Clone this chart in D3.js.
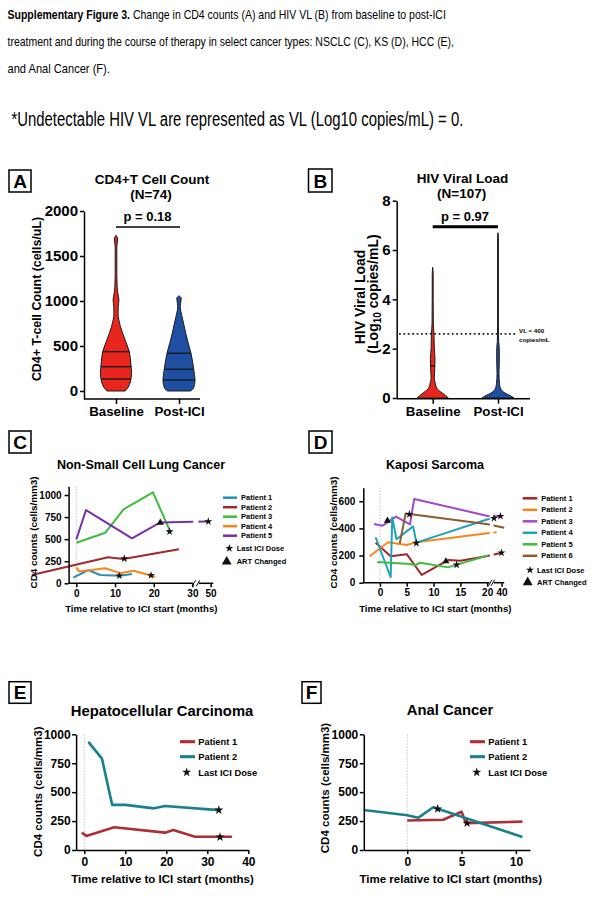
<!DOCTYPE html>
<html>
<head>
<meta charset="utf-8">
<title>Supplementary Figure 3</title>
<script src="https://cdn.jsdelivr.net/npm/d3@7/dist/d3.min.js"></script>
<style>
  body { margin: 0; background: #fff; }
</style>
</head>
<body>
<svg width="600" height="899"></svg>
<script>
var FONT = '"Liberation Sans", Arial, Helvetica, sans-serif';

// caption
var captionBold = 'Supplementary Figure 3.';
var captionRest = ' Change in CD4 counts (A) and HIV VL (B) from baseline to post-ICI';
var captionLine2 = 'treatment and during the course of therapy in select cancer types: NSCLC (C), KS (D), HCC (E),';
var captionLine3 = 'and Anal Cancer (F).';
var noteText = '*Undetectable HIV VL are represented as VL (Log10 copies/mL) = 0.';

var groups = ['Baseline', 'Post-ICI'];

// panel A violins: CD4 level and relative width of the outline
var cd4BaseLevels = [0, 40, 100, 197, 300, 437, 567, 715, 863, 940, 1011, 1080, 1159, 1300, 1600, 1690, 1730];
var cd4BaseWidth  = [0.57, 0.75, 0.9, 0.97, 0.93, 0.83, 0.57, 0.28, 0.13, 0.14, 0.18, 0.12, 0.07, 0.05, 0.05, 0.1, 0];
var cd4PostLevels = [0, 30, 122, 241, 419, 530, 641, 740, 826, 937, 1000, 1030, 1058];
var cd4PostWidth  = [0.72, 0.9, 1.0, 0.92, 0.75, 0.58, 0.42, 0.3, 0.19, 0.08, 0.12, 0.14, 0];
var cd4BaseQuartiles = [133, 270, 437];
var cd4PostQuartiles = [122, 241, 419];
var cd4Ticks = [0, 500, 1000, 1500, 2000];

// panel B violins (log10 copies/mL)
var vlBaseLevels = [0, 0.1, 0.25, 0.4, 0.6, 0.8, 1.2, 1.6, 2.0, 2.6, 3.0, 4.0, 5.0, 5.3];
var vlBaseWidth  = [0.98, 0.8, 0.5, 0.25, 0.16, 0.1, 0.13, 0.14, 0.1, 0.08, 0.04, 0.03, 0.03, 0];
var vlPostLevels = [0, 0.1, 0.2, 0.35, 0.6, 1.0, 1.5, 2.0, 2.3, 3.0, 6.5, 6.7];
var vlPostWidth  = [1.0, 0.75, 0.44, 0.19, 0.09, 0.06, 0.08, 0.08, 0.04, 0.025, 0.025, 0];
var vlBaseMedian = [1.3];
var vlTicks = [0, 2, 4, 6, 8];
var vlCutoff = Math.log10(400);

// panel C: NSCLC, [months, CD4]
var nsclcP1 = [[-0.8, 64], [3.1, 150], [6.2, 94], [11.3, 86], [14.4, 105]];
var nsclcP2 = [[-11.5, 94], [8.2, 294], [12.2, 275], [26.5, 385]];
var nsclcP3 = [[0, 460], [7.5, 573], [12.2, 838], [19.8, 1030], [24.3, 585]];
var nsclcP4 = [[0, 180], [0.7, 135], [7.5, 170], [11.3, 115], [14.8, 143], [20.4, 75]];
var nsclcP5 = [[0, 498], [2.5, 830], [14.4, 510], [21.7, 690], [30, 698], [49.4, 700]];
var nsclcLastDose = [[11.1, 86], [12.4, 280], [19.3, 90], [24.1, 585], [49.4, 700]];
var nsclcArtChanged = [[21.7, 688]];
var nsclcXTicks = [0, 10, 20, 30, 50];
var nsclcYTicks = [0, 250, 500, 750, 1000];

// panel D: Kaposi sarcoma
var ksP1 = [[-0.8, 295], [2.0, 195], [5.0, 210], [7.8, 57], [12.8, 168], [15, 162], [20.1, 197], [40, 220]];
var ksP2 = [[-1.9, 195], [1.5, 298], [5.0, 278], [6.7, 298], [20.1, 364], [39.1, 372]];
var ksP3 = [[-1.1, 432], [0.5, 420], [3.0, 487], [5.6, 430], [6.4, 617], [20.1, 492], [39.8, 490]];
var ksP4 = [[-0.8, 335], [2.0, 40], [2.3, 480], [3.1, 320], [6.2, 415], [6.8, 295], [20.1, 467], [38.6, 475]];
var ksP5 = [[-0.5, 152], [5.6, 138], [6.5, 128], [7.5, 147], [12.7, 113], [14.5, 135], [20.1, 200]];
var ksP6 = [[3.7, 290], [4.8, 510], [20.1, 430], [40.5, 405]];
var ksLastDose = [[5.5, 504], [6.8, 292], [14.3, 132], [38.6, 475], [39.8, 490], [40, 220]];
var ksArtChanged = [[1.4, 457], [12.3, 158]];
var ksXTicks = [0, 5, 10, 15, 20, 40];
var ksYTicks = [0, 200, 400, 600];

// panel E: hepatocellular carcinoma
var hccP1 = [[-0.6, 150], [0.5, 122], [7.3, 196], [19.7, 150], [21.7, 172], [27, 115], [36, 115]];
var hccP2 = [[1, 935], [4.3, 790], [6.8, 390], [10, 390], [17, 360], [19.7, 380], [32.8, 345]];
var hccLastDose = [[33.1, 112], [32.8, 345]];
var hccXTicks = [0, 10, 20, 30, 40];

// panel F: anal cancer
var analP1 = [[0, 255], [3.3, 262], [5.0, 330], [5.4, 232], [10.6, 245]];
var analP2 = [[-4, 345], [0, 300], [1.0, 278], [2.4, 370], [10.6, 112]];
var analLastDose = [[2.8, 355], [5.5, 232]];
var analXTicks = [0, 5, 10];
var cd4Ticks4 = [0, 250, 500, 750, 1000];

var xLabelText = 'Time relative to ICI start (months)';
var yLabelText = 'CD4 counts (cells/mm3)';

var svg = d3.select('svg').attr('font-family', FONT);
svg.append('rect').attr('width', 600).attr('height', 899).attr('fill', '#fff');

// ---- caption: text squeezed horizontally to the width it has in the figure ----
function fitText(t, x, y, width) {
    var natural = t.node().getComputedTextLength();
    t.attr('transform', 'translate(' + x + ',' + y + ') scale(' + (width / natural) + ',1)');
}
var cap1 = svg.append('text').attr('font-size', 12.5).attr('fill', '#000');
cap1.append('tspan').attr('font-weight', 'bold').text(captionBold);
cap1.append('tspan').text(captionRest);
fitText(cap1, 7.5, 19, 439);
fitText(svg.append('text').attr('font-size', 12.5).attr('fill', '#000').text(captionLine2), 7.5, 45.5, 447);
fitText(svg.append('text').attr('font-size', 12.5).attr('fill', '#000').text(captionLine3), 7.5, 73, 102.5);
fitText(svg.append('text').attr('font-size', 20).attr('fill', '#000').text(noteText), 11.5, 126, 452);

// ---- helpers ----
function styleAxis(g, size) {
    g.attr('font-family', FONT).attr('font-size', size).attr('font-weight', 'bold');
    g.selectAll('text').attr('fill', '#000');
    g.selectAll('line').attr('stroke', '#000').attr('stroke-width', 1.5);
    g.selectAll('.domain').attr('stroke', '#000').attr('stroke-width', 1.5);
}

function letterBox(x, y, w, h, letter) {
    svg.append('rect').attr('x', x).attr('y', y).attr('width', w).attr('height', h)
        .attr('fill', 'none').attr('stroke', '#000').attr('stroke-width', 1.5);
    svg.append('text').attr('x', x + w / 2).attr('y', y + h - 4)
        .attr('text-anchor', 'middle').attr('font-size', 19).attr('font-weight', 'bold')
        .text(letter);
}

function boldText(x, y, size, txt, anchor) {
    return svg.append('text').attr('x', x).attr('y', y)
        .attr('font-size', size).attr('font-weight', 'bold')
        .attr('text-anchor', anchor || 'middle').text(txt);
}

function vText(x, y, size, txt) {
    return svg.append('text')
        .attr('transform', 'translate(' + x + ',' + y + ') rotate(-90)')
        .attr('font-size', size).attr('font-weight', 'bold')
        .attr('text-anchor', 'middle').text(txt);
}

function drawViolin(g, cx, levels, widths, y, w, color, lines) {
    var pts = levels.map(function(v, i) { return [v, widths[i]]; });
    var area = d3.area()
        .y(function(d) { return y(d[0]); })
        .x0(function(d) { return cx - w(d[1]); })
        .x1(function(d) { return cx + w(d[1]); })
        .curve(d3.curveMonotoneY);
    g.append('path').datum(pts).attr('d', area)
        .attr('fill', color).attr('stroke', '#1a1a1a').attr('stroke-width', 1);
    var widthAt = d3.scaleLinear().domain(levels).range(widths);
    lines.forEach(function(q) {
        var hw = w(widthAt(q));
        g.append('line')
            .attr('x1', cx - hw).attr('x2', cx + hw)
            .attr('y1', y(q)).attr('y2', y(q))
            .attr('stroke', '#1a1a1a').attr('stroke-width', 1.4);
    });
}

var intFmt = d3.format('d');

// ---- panel A ----
letterBox(9, 170, 22, 22, 'A');
boldText(152, 184, 13.5, 'CD4+T Cell Count');
boldText(151, 198.5, 13.5, '(N=74)');

var yA = d3.scaleLinear().domain([-89, 2000]).range([399, 211]);
var xA = d3.scalePoint().domain(groups).range([116, 179]);
var wA = d3.scaleLinear().domain([0, 1]).range([0, 16]);
var gA = svg.append('g');

drawViolin(gA, xA('Baseline'), cd4BaseLevels, cd4BaseWidth, yA, wA, '#e8261e', cd4BaseQuartiles);
drawViolin(gA, xA('Post-ICI'), cd4PostLevels, cd4PostWidth, yA, wA, '#1f4fa3', cd4PostQuartiles);

var yAxisA = gA.append('g').attr('transform', 'translate(84,0)')
    .call(d3.axisLeft(yA).tickValues(cd4Ticks).tickFormat(intFmt).tickSize(4).tickSizeOuter(0).tickPadding(2));
styleAxis(yAxisA, 15);
var xAxisA = gA.append('g').attr('transform', 'translate(0,399)')
    .call(d3.axisBottom(xA).tickSize(5).tickPadding(3));
xAxisA.select('.domain').remove();
styleAxis(xAxisA, 13.3);
gA.append('line').attr('x1', 84).attr('x2', 200).attr('y1', 399).attr('y2', 399)
    .attr('stroke', '#000').attr('stroke-width', 1.5);

boldText(147.5, 220.5, 13, 'p = 0.18');
gA.append('line').attr('x1', xA('Baseline')).attr('x2', xA('Post-ICI') + 1).attr('y1', 227).attr('y2', 227)
    .attr('stroke', '#000').attr('stroke-width', 1.5);
vText(41, 299, 12.4, 'CD4+ T-cell Count (cells/uL)');

// ---- panel B ----
letterBox(308.5, 169, 23.5, 23, 'B');
boldText(462.5, 182.7, 13.5, 'HIV Viral Load');
boldText(461.7, 198, 13.5, '(N=107)');

var yB = d3.scaleLinear().domain([0, 8]).range([398, 200.7]);
var xB = d3.scalePoint().domain(groups).range([432.7, 498]);
var wB = d3.scaleLinear().domain([0, 1]).range([0, 16]);
var gB = svg.append('g');

drawViolin(gB, xB('Baseline'), vlBaseLevels, vlBaseWidth, yB, wB, '#e8261e', vlBaseMedian);
drawViolin(gB, xB('Post-ICI'), vlPostLevels, vlPostWidth, yB, wB, '#1f4fa3', []);

gB.append('line').attr('x1', 399).attr('x2', 517)
    .attr('y1', yB(vlCutoff)).attr('y2', yB(vlCutoff))
    .attr('stroke', '#222').attr('stroke-width', 1.8).attr('stroke-dasharray', '1.8,2.6');
boldText(519, 333, 6.2, 'VL = 400', 'start');
boldText(519, 341.5, 6.2, 'copies/mL', 'start');

var yAxisB = gB.append('g').attr('transform', 'translate(396.7,0)')
    .call(d3.axisLeft(yB).tickValues(vlTicks).tickSize(4).tickSizeOuter(0).tickPadding(2));
styleAxis(yAxisB, 15);
var xAxisB = gB.append('g').attr('transform', 'translate(0,398.7)')
    .call(d3.axisBottom(xB).tickSize(5).tickPadding(3));
xAxisB.select('.domain').remove();
styleAxis(xAxisB, 13.3);
gB.append('line').attr('x1', 396.7).attr('x2', 530).attr('y1', 398.7).attr('y2', 398.7)
    .attr('stroke', '#000').attr('stroke-width', 1.5);

boldText(465, 220.5, 13, 'p = 0.97');
gB.append('line').attr('x1', xB('Baseline')).attr('x2', xB('Post-ICI')).attr('y1', 226.7).attr('y2', 226.7)
    .attr('stroke', '#000').attr('stroke-width', 3);
vText(365, 297, 14, 'HIV Viral Load');
var lb = vText(377.5, 294, 14, '(Log');
lb.append('tspan').attr('dy', 3).attr('font-size', 10).text('10');
lb.append('tspan').attr('dy', -3).text(' copies/mL)');

// ---- line panels ----
function drawLinePanel(p) {
    var g = svg.append('g');
    var x = p.x, y = p.y;
    var xr = x.range(), yr = y.range();
    var x0 = xr[0], y0 = yr[0], yTop = yr[yr.length - 1];

    g.append('line').attr('x1', x(0)).attr('x2', x(0)).attr('y1', yTop).attr('y2', y0)
        .attr('stroke', '#c4c4c4').attr('stroke-width', 1).attr('stroke-dasharray', '1.5,1.5');

    var lineGen = d3.line()
        .x(function(d) { return x(d[0]); })
        .y(function(d) { return y(d[1]); });
    var lg = g.append('g');
    if (p.gap) {
        var cp = svg.append('defs').append('clipPath').attr('id', p.id + '-clip');
        cp.append('rect').attr('x', 0).attr('y', 0).attr('width', p.gap[0]).attr('height', 899);
        cp.append('rect').attr('x', p.gap[1]).attr('y', 0).attr('width', 600 - p.gap[1]).attr('height', 899);
        lg.attr('clip-path', 'url(#' + p.id + '-clip)');
    }
    p.series.forEach(function(s, i) {
        lg.append('path').datum(s).attr('d', lineGen)
            .attr('fill', 'none').attr('stroke', p.colors[i])
            .attr('stroke-width', p.lineWidth).attr('stroke-linejoin', 'round');
    });

    var star = d3.symbol().type(d3.symbolStar).size(p.starSize);
    var tri = d3.symbol().type(d3.symbolTriangle).size(p.triSize);
    g.selectAll('.star').data(p.stars).enter().append('path')
        .attr('class', 'star').attr('d', star).attr('fill', '#111')
        .attr('transform', function(d) { return 'translate(' + [x(d[0]), y(d[1])] + ')'; });
    g.selectAll('.tri').data(p.triangles || []).enter().append('path')
        .attr('class', 'tri').attr('d', tri).attr('fill', '#111')
        .attr('transform', function(d) { return 'translate(' + [x(d[0]), y(d[1])] + ')'; });

    var yAxis = g.append('g').attr('transform', 'translate(' + x0 + ',0)')
        .call(d3.axisLeft(y).tickValues(p.yTicks).tickFormat(intFmt)
            .tickSize(4).tickSizeOuter(0).tickPadding(p.yPad));
    styleAxis(yAxis, p.tickFont);
    var xAxis = g.append('g').attr('transform', 'translate(0,' + y0 + ')')
        .call(d3.axisBottom(x).tickValues(p.xTicks).tickFormat(intFmt)
            .tickSize(4).tickSizeOuter(0).tickPadding(p.xPad));
    styleAxis(xAxis, p.tickFont);
    if (p.segments) {
        xAxis.select('.domain').remove();
        p.segments.forEach(function(sg) {
            g.append('line').attr('x1', sg[0]).attr('x2', sg[1]).attr('y1', y0).attr('y2', y0)
                .attr('stroke', '#000').attr('stroke-width', 1.5);
        });
        [p.segments[0][1] + 1, p.segments[1][0] - 1].forEach(function(bx) {
            g.append('line').attr('x1', bx - 1.8).attr('x2', bx + 1.8)
                .attr('y1', y0 + 3).attr('y2', y0 - 3)
                .attr('stroke', '#000').attr('stroke-width', 1);
        });
    }

    // legend
    var L = p.legend;
    p.names.forEach(function(name, i) {
        var ly = L.y + i * L.dy;
        g.append('line').attr('x1', L.x1).attr('x2', L.x2).attr('y1', ly).attr('y2', ly)
            .attr('stroke', p.colors[i]).attr('stroke-width', p.lineWidth + 0.5);
        g.append('text').attr('x', L.tx).attr('y', ly).attr('dy', '0.35em')
            .attr('font-size', L.font).attr('font-weight', 'bold').text(name);
    });
    g.append('path').attr('d', star).attr('fill', '#111')
        .attr('transform', 'translate(' + [L.starX, L.starY] + ')');
    g.append('text').attr('x', L.markTx).attr('y', L.starY).attr('dy', '0.35em')
        .attr('font-size', L.font).attr('font-weight', 'bold').text('Last ICI Dose');
    if (L.triY) {
        g.append('path').attr('d', d3.symbol().type(d3.symbolTriangle).size(L.triSize)).attr('fill', '#111')
            .attr('transform', 'translate(' + [L.triX, L.triY] + ')');
        g.append('text').attr('x', L.markTx).attr('y', L.triY).attr('dy', '0.35em')
            .attr('font-size', L.font).attr('font-weight', 'bold').text('ART Changed');
    }

    boldText(p.title[0], p.title[1], p.title[2], p.titleText);
    boldText(p.xLabel[0], p.xLabel[1], p.xLabel[2], xLabelText);
    vText(p.yLabel[0], p.yLabel[1], p.yLabel[2], yLabelText);
}

var patientNames = ['Patient 1', 'Patient 2', 'Patient 3', 'Patient 4', 'Patient 5', 'Patient 6'];

// panel C
letterBox(9, 431, 22, 22, 'C');
drawLinePanel({
    id: 'nsclc',
    x: d3.scaleLinear().domain([-2, 30, 47, 51]).range([68.6, 192.4, 199, 214.5]),
    y: d3.scaleLinear().domain([0, 1100]).range([583.3, 486.2]),
    series: [nsclcP1, nsclcP2, nsclcP3, nsclcP4, nsclcP5],
    colors: ['#2a8fb5', '#a3262a', '#3cbd3c', '#f7861e', '#7b2ea8'],
    names: patientNames.slice(0, 5),
    lineWidth: 2,
    stars: nsclcLastDose, triangles: nsclcArtChanged,
    starSize: 20, triSize: 22,
    xTicks: nsclcXTicks, yTicks: nsclcYTicks,
    tickFont: 10, xPad: 2.5, yPad: 3,
    gap: [193.3, 198.3],
    segments: [[68.6, 192.8], [199, 213.3]],
    legend: {x1: 223, x2: 237, tx: 241, y: 497.7, dy: 9.5, font: 7.5,
             starX: 229.3, starY: 548.3, triX: 226.7, triY: 561.7, triSize: 42, markTx: 236.7},
    title: [141, 469, 12.5], titleText: 'Non-Small Cell Lung Cancer',
    xLabel: [141.3, 612, 9.6],
    yLabel: [37, 532.5, 9.9]
});

// panel D
letterBox(309, 431, 23, 22, 'D');
drawLinePanel({
    id: 'ks',
    x: d3.scaleLinear().domain([-3.1, 20.4, 38.6, 40.5]).range([363.3, 489.3, 494, 504.2]),
    y: d3.scaleLinear().domain([0, 700]).range([582.7, 487.7]),
    series: [ksP1, ksP2, ksP3, ksP4, ksP5, ksP6],
    colors: ['#a3262a', '#f7861e', '#a448c6', '#1fa3b8', '#3cbd3c', '#8b5c2c'],
    names: patientNames,
    lineWidth: 2,
    stars: ksLastDose, triangles: ksArtChanged,
    starSize: 20, triSize: 22,
    xTicks: ksXTicks, yTicks: ksYTicks,
    tickFont: 10, xPad: 1.8, yPad: 4,
    gap: [489.8, 493.6],
    segments: [[363.3, 489.3], [494, 504.2]],
    legend: {x1: 522.7, x2: 537.3, tx: 541.3, y: 498.3, dy: 11.5, font: 7.5,
             starX: 530, starY: 570, triX: 527.7, triY: 582.3, triSize: 42, markTx: 537},
    title: [435, 469, 12.5], titleText: 'Kaposi Sarcoma',
    xLabel: [435.3, 611.5, 9.6],
    yLabel: [336.5, 532.5, 9.9]
});

// panel E
letterBox(9, 681.7, 22, 21.6, 'E');
drawLinePanel({
    id: 'hcc',
    x: d3.scaleLinear().domain([-2, 40]).range([76.1, 248.3]),
    y: d3.scaleLinear().domain([0, 1000]).range([850, 734.3]),
    series: [hccP1, hccP2],
    colors: ['#ad2e33', '#18808f'],
    names: patientNames.slice(0, 2),
    lineWidth: 2.6,
    stars: hccLastDose,
    starSize: 26, triSize: 0,
    xTicks: hccXTicks, yTicks: cd4Ticks4,
    tickFont: 12, xPad: 3.5, yPad: 1.5,
    legend: {x1: 180, x2: 195, tx: 198.3, y: 741.7, dy: 15, font: 9.3,
             starX: 186.7, starY: 772.3, markTx: 198.3},
    title: [162, 716, 14.8], titleText: 'Hepatocellular Carcinoma',
    xLabel: [162.5, 882.5, 11.5],
    yLabel: [41.5, 791.7, 11.5]
});

// panel F
letterBox(302, 681.7, 19, 21.6, 'F');
drawLinePanel({
    id: 'anal',
    x: d3.scaleLinear().domain([-4, 11.3]).range([363.8, 530]),
    y: d3.scaleLinear().domain([0, 1000]).range([850, 734.3]),
    series: [analP1, analP2],
    colors: ['#ad2e33', '#18808f'],
    names: patientNames.slice(0, 2),
    lineWidth: 2.6,
    stars: analLastDose,
    starSize: 26, triSize: 0,
    xTicks: analXTicks, yTicks: cd4Ticks4,
    tickFont: 12, xPad: 3.5, yPad: 1.5,
    legend: {x1: 470, x2: 485, tx: 488.3, y: 741.7, dy: 15, font: 9.3,
             starX: 476.7, starY: 772.3, markTx: 488.3},
    title: [450, 715, 14.8], titleText: 'Anal Cancer',
    xLabel: [450.8, 882.5, 11.5],
    yLabel: [328.5, 788, 11.5]
});
</script>
</body>
</html>
